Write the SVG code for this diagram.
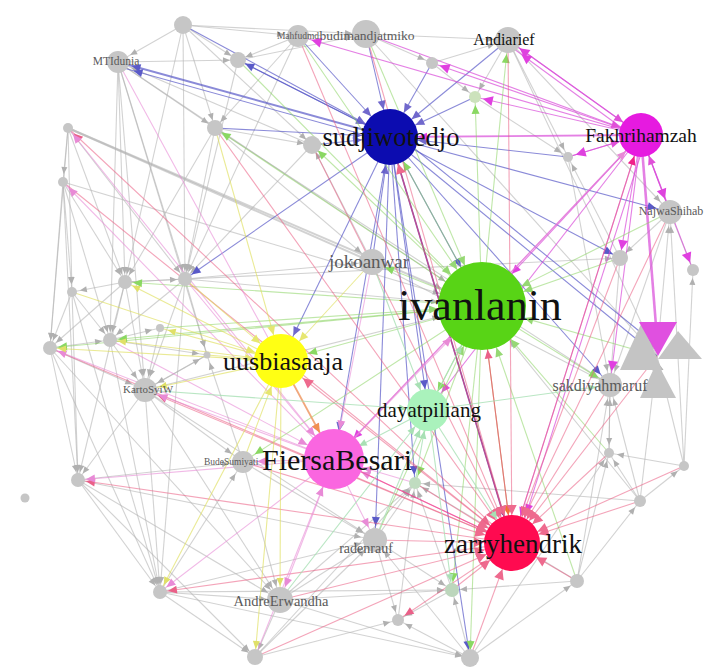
<svg xmlns="http://www.w3.org/2000/svg" width="704" height="671" viewBox="0 0 704 671">
<style>
.ed path{fill:none;stroke-width:1.1}
.k{stroke:#b4b4b4;stroke-opacity:.6}
.s{stroke:#5858c8;stroke-opacity:.7}
.sz{stroke:#6a1090;stroke-opacity:.8}
.f{stroke:#d84ad8;stroke-opacity:.7}
.i{stroke:#8ad462;stroke-opacity:.55}
.iz{stroke:#c87a30;stroke-opacity:.75}
.z{stroke:#ea5a80;stroke-opacity:.55}
.bz{stroke:#f04090;stroke-opacity:.6}
.b{stroke:#e88ad6;stroke-opacity:.6}
.u{stroke:#dede5c;stroke-opacity:.65}
.ub{stroke:#f0a060;stroke-opacity:.8}
.d{stroke:#a8e0b4;stroke-opacity:.8}
.gn{fill:#c6c6c6}
.lb{font-family:"Liberation Serif",serif;text-anchor:middle;fill:#111}
.sm{font-family:"Liberation Serif",serif;text-anchor:middle;fill:#5a5a5a}
</style>
<defs>
<marker id="hk8" markerUnits="userSpaceOnUse" orient="auto" refX="8" refY="0" markerWidth="1" markerHeight="1" style="overflow:visible"><path d="M0,0L-7,-3L-7,3Z" fill="#b0b0b0"/></marker>
<marker id="hk14" markerUnits="userSpaceOnUse" orient="auto" refX="14" refY="0" markerWidth="1" markerHeight="1" style="overflow:visible"><path d="M0,0L-7,-3L-7,3Z" fill="#b0b0b0"/></marker>
<marker id="hk44" markerUnits="userSpaceOnUse" orient="auto" refX="44" refY="0" markerWidth="1" markerHeight="1" style="overflow:visible"><path d="M0,0L-7,-3L-7,3Z" fill="#b0b0b0"/></marker>
<marker id="hs8" markerUnits="userSpaceOnUse" orient="auto" refX="8" refY="0" markerWidth="1" markerHeight="1" style="overflow:visible"><path d="M0,0L-9,-4L-9,4Z" fill="#5a5ac8"/></marker>
<marker id="hs14" markerUnits="userSpaceOnUse" orient="auto" refX="14" refY="0" markerWidth="1" markerHeight="1" style="overflow:visible"><path d="M0,0L-9,-4L-9,4Z" fill="#5a5ac8"/></marker>
<marker id="hs22" markerUnits="userSpaceOnUse" orient="auto" refX="21" refY="0" markerWidth="1" markerHeight="1" style="overflow:visible"><path d="M0,0L-9,-4L-9,4Z" fill="#5a5ac8"/></marker>
<marker id="hs28" markerUnits="userSpaceOnUse" orient="auto" refX="28" refY="0" markerWidth="1" markerHeight="1" style="overflow:visible"><path d="M0,0L-9,-4L-9,4Z" fill="#7068cc"/></marker>
<marker id="hs44" markerUnits="userSpaceOnUse" orient="auto" refX="44" refY="0" markerWidth="1" markerHeight="1" style="overflow:visible"><path d="M0,0L-9,-4L-9,4Z" fill="#5a5ac8"/></marker>
<marker id="hsz28" markerUnits="userSpaceOnUse" orient="auto" refX="28" refY="0" markerWidth="1" markerHeight="1" style="overflow:visible"><path d="M0,0L-10,-5L-10,5Z" fill="#5a0a8a"/></marker>
<marker id="hf8" markerUnits="userSpaceOnUse" orient="auto" refX="8" refY="0" markerWidth="1" markerHeight="1" style="overflow:visible"><path d="M0,0L-10,-5L-10,5Z" fill="#e040e0"/></marker>
<marker id="hf14" markerUnits="userSpaceOnUse" orient="auto" refX="14" refY="0" markerWidth="1" markerHeight="1" style="overflow:visible"><path d="M0,0L-10,-5L-10,5Z" fill="#e040e0"/></marker>
<marker id="hf22" markerUnits="userSpaceOnUse" orient="auto" refX="22" refY="0" markerWidth="1" markerHeight="1" style="overflow:visible"><path d="M0,0L-9,-4L-9,4Z" fill="#e050d8"/></marker>
<marker id="hf28" markerUnits="userSpaceOnUse" orient="auto" refX="28" refY="0" markerWidth="1" markerHeight="1" style="overflow:visible"><path d="M0,0L-9,-4L-9,4Z" fill="#e040e0"/></marker>
<marker id="hf44" markerUnits="userSpaceOnUse" orient="auto" refX="44" refY="0" markerWidth="1" markerHeight="1" style="overflow:visible"><path d="M0,0L-9,-4L-9,4Z" fill="#e040e0"/></marker>
<marker id="hi8" markerUnits="userSpaceOnUse" orient="auto" refX="8" refY="0" markerWidth="1" markerHeight="1" style="overflow:visible"><path d="M0,0L-9,-4L-9,4Z" fill="#8ad862"/></marker>
<marker id="hi14" markerUnits="userSpaceOnUse" orient="auto" refX="14" refY="0" markerWidth="1" markerHeight="1" style="overflow:visible"><path d="M0,0L-9,-4L-9,4Z" fill="#8ad862"/></marker>
<marker id="hi22" markerUnits="userSpaceOnUse" orient="auto" refX="21" refY="0" markerWidth="1" markerHeight="1" style="overflow:visible"><path d="M0,0L-9,-4L-9,4Z" fill="#8ad862"/></marker>
<marker id="hi28" markerUnits="userSpaceOnUse" orient="auto" refX="28" refY="0" markerWidth="1" markerHeight="1" style="overflow:visible"><path d="M0,0L-9,-4L-9,4Z" fill="#8ad862"/></marker>
<marker id="hi44" markerUnits="userSpaceOnUse" orient="auto" refX="44" refY="0" markerWidth="1" markerHeight="1" style="overflow:visible"><path d="M0,0L-9,-4L-9,4Z" fill="#96d874"/></marker>
<marker id="hiz28" markerUnits="userSpaceOnUse" orient="auto" refX="28" refY="0" markerWidth="1" markerHeight="1" style="overflow:visible"><path d="M0,0L-10,-5L-10,5Z" fill="#f07a20"/></marker>
<marker id="hz8" markerUnits="userSpaceOnUse" orient="auto" refX="8" refY="0" markerWidth="1" markerHeight="1" style="overflow:visible"><path d="M0,0L-9,-4L-9,4Z" fill="#ea6088"/></marker>
<marker id="hz14" markerUnits="userSpaceOnUse" orient="auto" refX="14" refY="0" markerWidth="1" markerHeight="1" style="overflow:visible"><path d="M0,0L-9,-4L-9,4Z" fill="#ea6088"/></marker>
<marker id="hz22" markerUnits="userSpaceOnUse" orient="auto" refX="22" refY="0" markerWidth="1" markerHeight="1" style="overflow:visible"><path d="M0,0L-9,-4L-9,4Z" fill="#f0208a"/></marker>
<marker id="hz28" markerUnits="userSpaceOnUse" orient="auto" refX="28" refY="0" markerWidth="1" markerHeight="1" style="overflow:visible"><path d="M0,0L-10,-5L-10,5Z" fill="#ee6a8e"/></marker>
<marker id="hz44" markerUnits="userSpaceOnUse" orient="auto" refX="44" refY="0" markerWidth="1" markerHeight="1" style="overflow:visible"><path d="M0,0L-9,-4L-9,4Z" fill="#ea6088"/></marker>
<marker id="hb8" markerUnits="userSpaceOnUse" orient="auto" refX="8" refY="0" markerWidth="1" markerHeight="1" style="overflow:visible"><path d="M0,0L-9,-4L-9,4Z" fill="#e88ad6"/></marker>
<marker id="hb14" markerUnits="userSpaceOnUse" orient="auto" refX="14" refY="0" markerWidth="1" markerHeight="1" style="overflow:visible"><path d="M0,0L-9,-4L-9,4Z" fill="#e88ad6"/></marker>
<marker id="hb22" markerUnits="userSpaceOnUse" orient="auto" refX="22" refY="0" markerWidth="1" markerHeight="1" style="overflow:visible"><path d="M0,0L-9,-4L-9,4Z" fill="#e88ad6"/></marker>
<marker id="hb28" markerUnits="userSpaceOnUse" orient="auto" refX="30" refY="0" markerWidth="1" markerHeight="1" style="overflow:visible"><path d="M0,0L-9,-4L-9,4Z" fill="#e88ad6"/></marker>
<marker id="hb44" markerUnits="userSpaceOnUse" orient="auto" refX="44" refY="0" markerWidth="1" markerHeight="1" style="overflow:visible"><path d="M0,0L-9,-4L-9,4Z" fill="#e88ad6"/></marker>
<marker id="hub28" markerUnits="userSpaceOnUse" orient="auto" refX="30" refY="0" markerWidth="1" markerHeight="1" style="overflow:visible"><path d="M0,0L-9,-4L-9,4Z" fill="#f09050"/></marker>
<marker id="hu8" markerUnits="userSpaceOnUse" orient="auto" refX="8" refY="0" markerWidth="1" markerHeight="1" style="overflow:visible"><path d="M0,0L-8,-3.5L-8,3.5Z" fill="#e0e068"/></marker>
<marker id="hu14" markerUnits="userSpaceOnUse" orient="auto" refX="14" refY="0" markerWidth="1" markerHeight="1" style="overflow:visible"><path d="M0,0L-8,-3.5L-8,3.5Z" fill="#e0e068"/></marker>
<marker id="hu28" markerUnits="userSpaceOnUse" orient="auto" refX="27" refY="0" markerWidth="1" markerHeight="1" style="overflow:visible"><path d="M0,0L-9,-4L-9,4Z" fill="#e6e670"/></marker>
<marker id="hd8" markerUnits="userSpaceOnUse" orient="auto" refX="8" refY="0" markerWidth="1" markerHeight="1" style="overflow:visible"><path d="M0,0L-8,-3.5L-8,3.5Z" fill="#a8e0b4"/></marker>
<marker id="hd14" markerUnits="userSpaceOnUse" orient="auto" refX="14" refY="0" markerWidth="1" markerHeight="1" style="overflow:visible"><path d="M0,0L-8,-3.5L-8,3.5Z" fill="#a8e0b4"/></marker>
<marker id="hd22" markerUnits="userSpaceOnUse" orient="auto" refX="21" refY="0" markerWidth="1" markerHeight="1" style="overflow:visible"><path d="M0,0L-8,-3.5L-8,3.5Z" fill="#a8e0b4"/></marker>
<marker id="hd28" markerUnits="userSpaceOnUse" orient="auto" refX="28" refY="0" markerWidth="1" markerHeight="1" style="overflow:visible"><path d="M0,0L-8,-3.5L-8,3.5Z" fill="#a8e0b4"/></marker>
<marker id="hd44" markerUnits="userSpaceOnUse" orient="auto" refX="44" refY="0" markerWidth="1" markerHeight="1" style="overflow:visible"><path d="M0,0L-8,-3.5L-8,3.5Z" fill="#a8e0b4"/></marker>
</defs>
<rect width="704" height="671" fill="#ffffff"/>

<g id="edges" class="ed">
<!-- grey to grey -->
<g class="k" marker-end="url(#hk8)">
<path d="M183 25L215 128"/><path d="M183 25L238 60"/><path d="M183 25L125 282"/><path d="M183 25L185 279"/><path d="M183 25L312 145"/>
<path d="M118 62L238 60"/><path d="M118 62L125 282"/><path d="M118 62L110 340"/><path d="M118 62L185 279"/><path d="M118 62L215 128"/><path d="M118 62L207 355"/>
<path d="M366 34L432 63"/><path d="M298 36L215 128"/><path d="M298 36L185 279"/><path d="M508 40L568 157"/><path d="M508 40L475 97"/>
<path d="M366 34L657 356"/><path d="M508 40L657 356"/><path d="M215 128L312 145"/>
<path d="M68 128L63 182"/><path d="M68 128L72 292"/><path d="M68 128L50 348"/><path d="M68 128L125 282"/><path d="M68 128L185 279"/>
<path d="M63 182L125 282"/><path d="M63 182L72 292"/><path d="M63 182L50 348"/><path d="M63 182L110 340"/><path d="M63 182L78 480"/>
<path d="M125 282L72 292"/><path d="M125 282L50 348"/><path d="M125 282L110 340"/><path d="M125 282L78 480"/><path d="M125 282L185 279"/><path d="M125 282L620 258"/>
<path d="M185 279L207 355"/><path d="M185 279L110 340"/><path d="M185 279L160 592"/>
<path d="M72 292L50 348"/><path d="M72 292L110 340"/><path d="M72 292L78 480"/><path d="M72 292L160 592"/>
<path d="M50 348L78 480"/><path d="M50 348L110 340"/><path d="M50 348L160 592"/>
<path d="M110 340L160 328"/><path d="M110 340L160 592"/><path d="M110 340L207 355"/>
<path d="M145 390L78 480"/><path d="M145 390L160 592"/><path d="M145 390L207 355"/>
<path d="M78 480L160 592"/><path d="M78 480L255 657"/>
<path d="M160 592L255 657"/><path d="M160 592L470 658"/><path d="M160 592L452 590"/>
<path d="M280 600L255 657"/><path d="M280 600L470 658"/><path d="M280 600L452 590"/><path d="M280 600L415 483"/>
<path d="M255 657L398 620"/><path d="M255 657L415 483"/>
<path d="M470 658L398 620"/><path d="M470 658L452 590"/><path d="M470 658L577 581"/><path d="M470 658L609 453"/>
<path d="M577 581L640 501"/><path d="M577 581L452 590"/><path d="M577 581L609 453"/><path d="M577 581L415 483"/>
<path d="M640 501L684 466"/><path d="M640 501L609 453"/><path d="M640 501L657 356"/><path d="M640 501L415 483"/>
<path d="M684 466L657 356"/><path d="M684 466L693 270"/><path d="M684 466L609 453"/>
<path d="M670 212L693 270"/><path d="M670 212L620 258"/><path d="M620 258L568 157"/>
<path d="M372 262L312 145"/><path d="M375 540L452 590"/><path d="M375 540L415 483"/><path d="M375 540L398 620"/>
<path d="M452 590L398 620"/><path d="M452 590L415 483"/><path d="M243 462L207 355"/>
<path d="M432 63L475 97"/><path d="M475 97L568 157"/><path d="M215 128L125 282"/><path d="M215 128L185 279"/>
<path d="M298 36L238 60"/><path d="M238 60L185 279"/><path d="M312 145L185 279"/><path d="M398 620L415 483"/>
<path d="M610 385L609 453"/>
</g>
<g class="k" marker-end="url(#hk14)">
<path d="M183 25L118 62"/><path d="M183 25L366 34"/><path d="M183 25L298 36"/><path d="M118 62L145 390"/>
<path d="M238 60L366 34"/><path d="M298 36L366 34"/><path d="M366 34L508 40"/><path d="M508 40L670 212"/>
<path d="M215 128L372 262"/><path d="M215 128L610 385"/><path d="M125 282L145 390"/><path d="M185 279L372 262"/>
<path d="M185 279L145 390"/><path d="M50 348L145 390"/><path d="M50 348L280 600"/><path d="M110 340L145 390"/>
<path d="M145 390L243 462"/><path d="M145 390L280 600"/><path d="M145 390L375 540"/><path d="M78 480L243 462"/>
<path d="M78 480L280 600"/><path d="M78 480L375 540"/><path d="M160 592L280 600"/><path d="M160 592L375 540"/>
<path d="M160 592L243 462"/><path d="M280 600L375 540"/><path d="M255 657L375 540"/><path d="M470 658L375 540"/>
<path d="M577 581L610 385"/><path d="M640 501L610 385"/><path d="M684 466L670 212"/><path d="M657 356L670 212"/>
<path d="M670 212L610 385"/><path d="M620 258L610 385"/><path d="M372 262L610 385"/><path d="M243 462L375 540"/>
<path d="M243 462L280 600"/><path d="M312 145L118 62"/><path d="M160 328L145 390"/><path d="M207 355L145 390"/>
<path d="M568 157L610 385"/><path d="M609 453L610 385"/><path d="M432 63L508 40"/>
</g>
<g class="k" marker-end="url(#hk44)">
<path d="M118 62L482 306"/><path d="M68 128L482 306" style="stroke-width:2"/><path d="M63 182L482 306"/>
<path d="M145 390L482 306"/><path d="M185 279L482 306"/><path d="M640 501L482 306"/>
</g>
<path class="k" d="M68 128L372 262" style="stroke-width:2"/>

<!-- sudjiwotedjo -->
<g class="s" marker-end="url(#hs28)">
<path d="M366 34L390 137"/><path d="M298 36L390 137"/><path d="M432 63L390 137"/><path d="M508 40L390 137"/>
<path d="M372 262L390 137"/><path d="M312 145L390 137"/><path d="M183 25L390 137"/><path d="M238 60L390 137"/>
<path d="M475 97L390 137"/><path d="M568 157L390 137"/><path d="M215 128L390 137"/>
<path d="M390 137L281 361"/><path d="M390 137L334 459"/>
</g>
<g class="s" marker-end="url(#hs8)">
<path d="M390 137L185 279"/><path d="M390 137L657 356"/><path d="M393 131L660 348"/><path d="M390 137L470 658"/>
<path d="M390 137L620 258"/><path d="M390 137L415 483"/><path d="M390 137L238 60"/>
</g>
<g class="s" marker-end="url(#hs14)">
<path d="M390 137L118 62" style="stroke-width:2"/><path d="M390 142L120 67"/><path d="M390 137L610 385"/>
<path d="M390 137L670 212"/><path d="M390 137L375 540"/>
</g>
<path class="s" d="M390 137L428 410" marker-end="url(#hs22)"/>
<path class="s" d="M390 137L482 306" marker-end="url(#hs44)"/>
<path class="sz" d="M390 137L512 543" marker-end="url(#hsz28)" style="stroke-width:1.6"/>

<!-- Fakhrihamzah -->
<g class="f" marker-end="url(#hf14)">
<path d="M641 135L508 40"/><path d="M637 139L510 46"/><path d="M641 135L298 36"/><path d="M641 135L670 212"/><path d="M641 135L610 385"/>
</g>
<g class="f" marker-end="url(#hf8)">
<path d="M641 135L432 63"/><path d="M641 135L693 270"/><path d="M641 135L620 258"/><path d="M641 135L475 97"/><path d="M641 135L568 157"/>
</g>
<g class="f" marker-end="url(#hf28)">
<path d="M641 135L390 137" style="stroke-width:1.8"/><path d="M641 135L512 543"/><path d="M646 138L518 540"/><path d="M641 135L334 459"/>
</g>
<path class="f" d="M641 135L428 410" marker-end="url(#hf22)"/>
<path class="f" d="M641 135L482 306" marker-end="url(#hf44)"/>
<path class="f" d="M641 135L656 326" style="stroke-width:2.6"/>
<g class="f" marker-end="url(#hf22)">
<path d="M366 34L641 135"/><path d="M508 40L641 135"/><path d="M568 157L641 135"/><path d="M670 212L641 135"/>
</g>

<!-- ivanlanin -->
<g class="i" marker-end="url(#hi14)">
<path d="M482 306L508 40"/><path d="M482 306L372 262"/><path d="M482 306L610 385"/><path d="M482 306L243 462"/>
</g>
<g class="i" marker-end="url(#hi8)">
<path d="M482 306L475 97"/><path d="M482 306L215 128"/><path d="M482 306L312 145"/><path d="M482 306L415 483"/>
<path d="M482 306L470 658"/><path d="M482 306L50 348"/><path d="M482 306L110 340"/><path d="M482 306L452 590"/><path d="M482 306L125 282"/>
</g>
<g class="i" marker-end="url(#hi28)">
<path d="M482 306L390 137"/><path d="M482 306L281 361"/>
</g>
<path class="i" d="M482 306L428 410" marker-end="url(#hi22)"/>
<path class="iz" d="M482 306L512 543" marker-end="url(#hiz28)"/>
<g class="i" marker-end="url(#hi44)">
<path d="M238 60L482 306"/><path d="M366 34L482 306"/><path d="M298 36L482 306"/><path d="M577 581L482 306"/>
<path d="M657 356L482 306"/><path d="M670 212L482 306"/><path d="M620 258L482 306"/><path d="M609 453L482 306"/>
<path d="M375 540L482 306"/><path d="M160 328L482 306"/>
</g>

<!-- zarryhendrik -->
<g class="z" marker-end="url(#hz28)">
<path d="M577 581L512 543"/><path d="M640 501L512 543"/><path d="M684 466L512 543"/><path d="M609 453L512 543"/>
<path d="M452 590L512 543"/><path d="M470 658L512 543"/><path d="M375 540L512 543"/><path d="M280 600L512 543"/>
<path d="M255 657L512 543"/><path d="M366 34L512 543"/><path d="M298 36L512 543"/><path d="M508 40L512 543"/>
<path d="M215 128L512 543"/><path d="M312 145L512 543"/><path d="M657 356L512 543"/><path d="M670 212L512 543"/>
<path d="M610 385L512 543"/><path d="M620 258L512 543"/><path d="M415 483L512 543"/><path d="M243 462L512 543"/>
<path d="M50 348L512 543"/><path d="M63 182L512 543"/>
<path d="M512 543L281 361"/><path d="M512 543L390 137"/>
</g>
<g class="z" marker-end="url(#hz8)">
<path d="M512 543L78 480"/><path d="M512 543L160 592"/><path d="M512 543L398 620"/><path d="M512 543L68 128"/>
</g>
<path class="z" d="M512 543L145 390" marker-end="url(#hz14)"/>
<path class="z" d="M512 543L482 306" marker-end="url(#hz44)"/>
<path class="z" d="M512 543L641 135" marker-end="url(#hz22)"/>
<path class="bz" d="M512 543L334 459" marker-end="url(#hb28)"/>
<path class="bz" d="M334 459L512 543" marker-end="url(#hz28)"/>

<!-- FiersaBesari -->
<g class="b" marker-end="url(#hb8)">
<path d="M334 459L50 348"/><path d="M334 459L78 480"/><path d="M334 459L68 128"/><path d="M334 459L63 182"/><path d="M334 459L160 592"/>
</g>
<g class="b" marker-end="url(#hb14)">
<path d="M334 459L145 390"/><path d="M334 459L243 462"/><path d="M334 459L375 540"/><path d="M334 459L280 600"/>
</g>
<path class="b" d="M334 459L482 306" marker-end="url(#hb44)"/>
<path class="b" d="M334 459L641 135" marker-end="url(#hb22)"/>
<g class="b" marker-end="url(#hb28)">
<path d="M372 262L334 459"/><path d="M255 657L334 459"/><path d="M415 483L334 459"/><path d="M118 62L334 459"/>
<path d="M110 340L334 459"/><path d="M185 279L334 459"/>
</g>
<path class="ub" d="M281 361L334 459" marker-end="url(#hub28)" style="stroke-width:1.8"/>

<!-- uusbiasaaja -->
<g class="u" marker-end="url(#hu8)">
<path d="M281 361L50 348"/><path d="M281 361L160 592"/><path d="M281 361L110 340"/><path d="M281 361L255 657"/>
<path d="M281 361L125 282"/><path d="M281 361L160 328"/>
</g>
<g class="u" marker-end="url(#hu14)">
<path d="M281 361L145 390"/><path d="M281 361L280 600"/>
</g>
<g class="u" marker-end="url(#hu28)">
<path d="M372 262L281 361"/><path d="M185 279L281 361"/><path d="M207 355L281 361"/><path d="M243 462L281 361"/>
<path d="M215 128L281 361"/><path d="M72 292L281 361"/>
</g>

<!-- dayatpiliang -->
<path class="d" d="M428 410L512 543" marker-end="url(#hd28)"/>
<path class="d" d="M428 410L334 459" marker-end="url(#hd28)"/>
<path class="d" d="M428 410L482 306" marker-end="url(#hd44)"/>
<path class="d" d="M428 410L452 590" marker-end="url(#hd8)"/>
<path class="d" d="M428 410L610 385" marker-end="url(#hd14)"/>
<g class="d" marker-end="url(#hd22)">
<path d="M145 390L428 410"/><path d="M372 262L428 410"/><path d="M375 540L428 410"/><path d="M415 483L428 410"/><path d="M280 600L428 410"/>
</g>
</g>

<!-- grey nodes -->
<g id="n-g1"><circle cx="183" cy="25" r="9" class="gn"/></g>
<g id="n-g2"><circle cx="238" cy="60" r="8" class="gn"/></g>
<g id="n-g3"><circle cx="215" cy="128" r="8" class="gn"/></g>
<g id="n-g4"><circle cx="68" cy="128" r="5" class="gn"/></g>
<g id="n-g5"><circle cx="63" cy="182" r="5" class="gn"/></g>
<g id="n-g6"><circle cx="125" cy="282" r="7" class="gn"/></g>
<g id="n-g7"><circle cx="185" cy="279" r="7" class="gn"/></g>
<g id="n-g8"><circle cx="72" cy="292" r="5" class="gn"/></g>
<g id="n-g9"><circle cx="50" cy="348" r="7" class="gn"/></g>
<g id="n-g10"><circle cx="110" cy="340" r="7" class="gn"/></g>
<g id="n-g11"><circle cx="160" cy="328" r="4" class="gn"/></g>
<g id="n-g12"><circle cx="207" cy="355" r="3.5" class="gn"/></g>
<g id="n-g13"><circle cx="78" cy="480" r="7" class="gn"/></g>
<g id="n-g14"><circle cx="25" cy="498" r="4.5" class="gn"/></g>
<g id="n-g15"><circle cx="160" cy="592" r="7" class="gn"/></g>
<g id="n-g16"><circle cx="255" cy="657" r="8" class="gn"/></g>
<g id="n-g17"><circle cx="470" cy="658" r="9" class="gn"/></g>
<g id="n-g18"><circle cx="577" cy="581" r="7" class="gn"/></g>
<g id="n-g19"><circle cx="640" cy="501" r="6" class="gn"/></g>
<g id="n-g20"><circle cx="684" cy="466" r="5" class="gn"/></g>
<g id="n-g21"><circle cx="609" cy="453" r="5" class="gn"/></g>
<g id="n-g22"><circle cx="452" cy="590" r="7" fill="#bcd6bc"/></g>
<g id="n-g23"><circle cx="398" cy="620" r="6" class="gn"/></g>
<g id="n-g24"><circle cx="415" cy="483" r="6" fill="#c0dcc0"/></g>
<g id="n-g25"><circle cx="620" cy="258" r="8" class="gn"/></g>
<g id="n-g26"><circle cx="693" cy="270" r="6" class="gn"/></g>
<g id="n-g27"><circle cx="432" cy="63" r="6" class="gn"/></g>
<g id="n-g28"><circle cx="475" cy="97" r="6" fill="#cce2bc"/></g>
<g id="n-g29"><circle cx="568" cy="157" r="5" class="gn"/></g>
<g id="n-g30"><circle cx="312" cy="145" r="9" class="gn"/></g>
<g id="n-hub">
<polygon points="642,322 620,370 662,370" fill="#c4c4c4"/>
<polygon points="678,331 658,359 702,359" fill="#c4c4c4"/>
<polygon points="657,362 640,398 676,398" fill="#c4c4c4"/>
<polygon points="639,322 677,322 658,356" fill="#e050e0"/>
</g>

<!-- labelled grey nodes -->
<g id="n-mtidunia"><circle cx="118" cy="62" r="11" class="gn"/><text x="116" y="65" class="sm" font-size="11.5">MTIdunia</text></g>
<g id="n-mahfudmd"><circle cx="298" cy="36" r="11" class="gn"/><text x="298" y="39" class="sm" font-size="9.5">Mahfudmd</text></g>
<g id="n-budimandjatmiko"><circle cx="366" cy="34" r="14" class="gn"/><text x="367" y="40" class="sm" font-size="13.5">budimandjatmiko</text></g>
<g id="n-andiarief"><circle cx="508" cy="40" r="13" class="gn"/><text x="504" y="45" class="lb" font-size="16" fill="#333">Andiarief</text></g>
<g id="n-najwashihab"><circle cx="670" cy="212" r="12" class="gn"/><text x="671" y="215" class="sm" font-size="12">NajwaShihab</text></g>
<g id="n-jokoanwar"><circle cx="372" cy="262" r="13" class="gn"/><text x="369" y="268" class="sm" font-size="19">jokoanwar</text></g>
<g id="n-sakdiyahmaruf"><circle cx="610" cy="385" r="12" class="gn"/><text x="600" y="391" class="sm" font-size="16">sakdiyahmaruf</text></g>
<g id="n-kartosyiw"><circle cx="145" cy="390" r="12" class="gn"/><text x="148" y="393" class="sm" font-size="11">KartoSyiW</text></g>
<g id="n-budesumiyati"><circle cx="243" cy="462" r="11" class="gn"/><text x="204" y="465" class="sm" font-size="9.5" style="text-anchor:start">BudeSumiyati</text></g>
<g id="n-radenrauf"><circle cx="375" cy="540" r="12" class="gn"/><text x="366" y="553" class="sm" font-size="14">radenrauf</text></g>
<g id="n-andreerwandha"><circle cx="280" cy="600" r="13" class="gn"/><text x="281" y="606" class="sm" font-size="14.5">AndreErwandha</text></g>

<!-- main accounts -->
<g id="n-sudjiwotedjo"><circle cx="390" cy="137" r="28" fill="#0c0cb0"/><text x="391" y="146" class="lb" font-size="26.5">sudjiwotedjo</text></g>
<g id="n-fakhrihamzah"><circle cx="641" cy="135" r="22" fill="#e61ae0"/><text x="641" y="142" class="lb" font-size="19.5">Fakhrihamzah</text></g>
<g id="n-uusbiasaaja"><circle cx="281" cy="361" r="27" fill="#ffff14"/><text x="283" y="370" class="lb" font-size="26">uusbiasaaja</text></g>
<g id="n-dayatpiliang"><circle cx="428" cy="410" r="21" fill="#aaf2bc"/><text x="429" y="417" class="lb" font-size="21" fill="#222">dayatpiliang</text></g>
<g id="n-fiersabesari"><circle cx="334" cy="459" r="30" fill="#fa66e0"/><text x="337" y="470" class="lb" font-size="30">FiersaBesari</text></g>
<g id="n-zarryhendrik"><circle cx="512" cy="543" r="28" fill="#ff0a50"/><text x="513" y="553" class="lb" font-size="27">zarryhendrik</text></g>
<g id="n-ivanlanin"><circle cx="482" cy="306" r="44" fill="#58d416"/><text x="480" y="320" class="lb" font-size="44">ivanlanin</text></g>
</svg>
